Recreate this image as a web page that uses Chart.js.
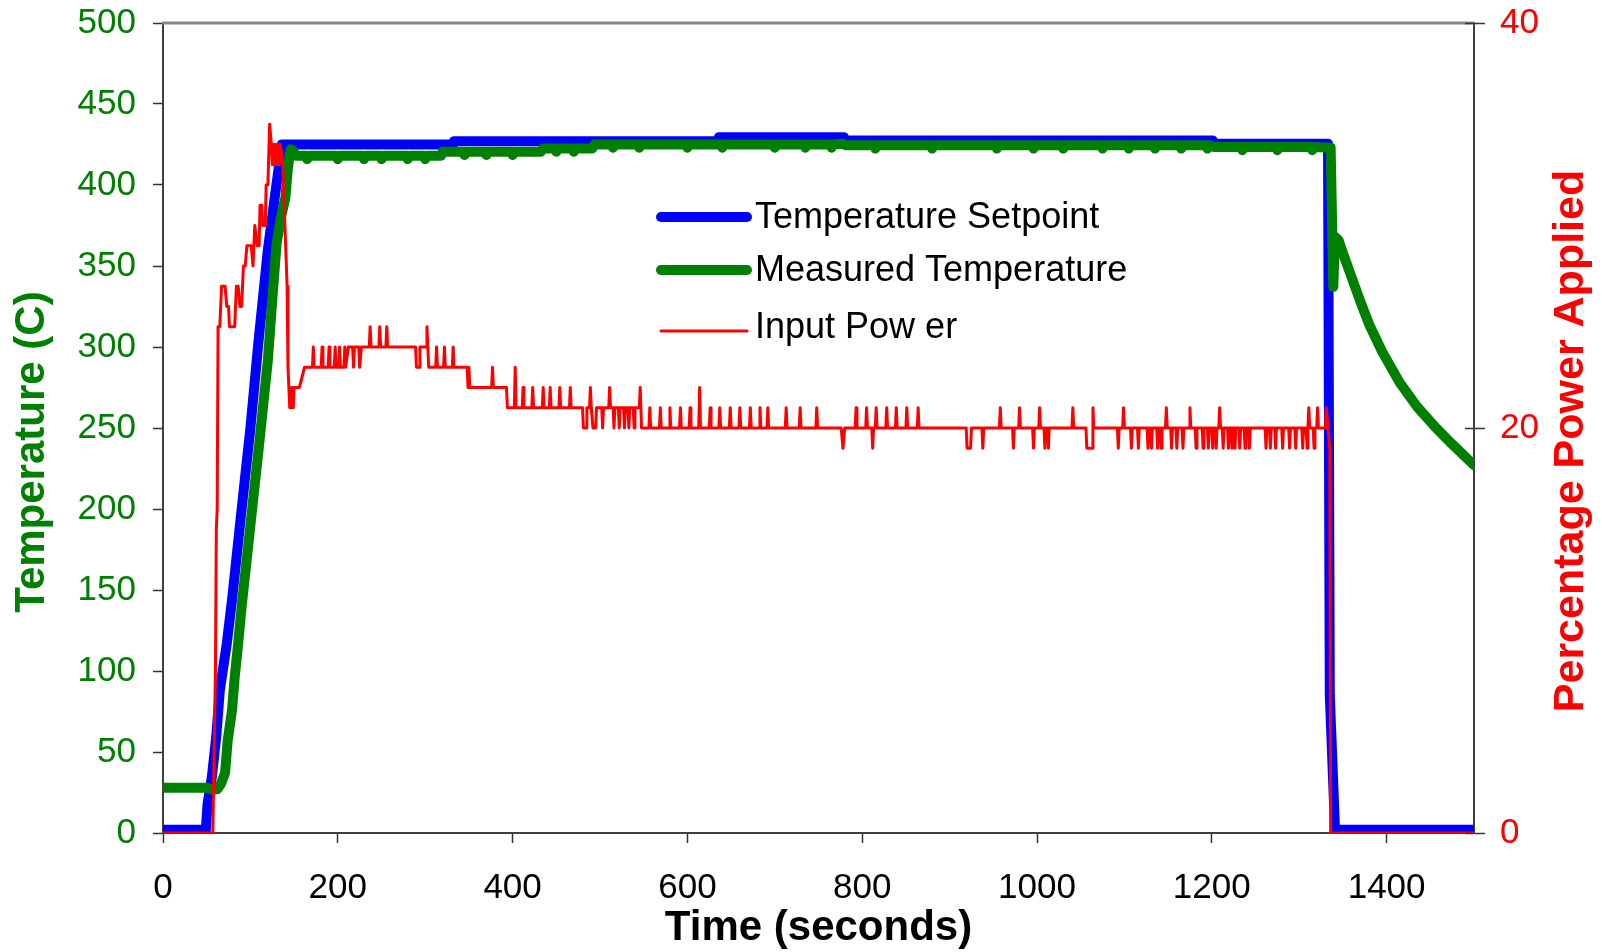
<!DOCTYPE html>
<html><head><meta charset="utf-8">
<script src="https://cdn.jsdelivr.net/npm/chart.js@4.4.1/dist/chart.umd.min.js"></script>
<style>html,body{margin:0;padding:0;background:#fff;}#wrap{width:1602px;height:952px;}</style>
</head><body><div id="wrap"><canvas id="c" width="1602" height="952"></canvas></div>
<script>
// ---- data ----
const xTickStep = 200;
const leftTickStep = 50;
const rightTickStep = 20;
const seriesLabels = ['Temperature Setpoint', 'Measured Temperature', 'Input Pow er'];

const setpointTime   = [0, 49, 51, 56, 61, 65, 73, 79, 90, 100, 109, 120, 128, 136, 332, 333, 635, 636, 779, 780, 1201, 1202, 1333, 1335, 1341, 1500];
const setpointValues = [2, 2, 18, 35, 60, 88, 117, 144, 200, 250, 302, 360, 393, 425, 425, 427, 427, 429.5, 429.5, 427.5, 427.5, 425.5, 425.5, 85, 2, 2];

const measuredTime = [0, 50, 55, 62, 66, 71, 74, 79, 82, 86, 90, 100, 110, 120, 125, 130, 135, 140, 143, 146, 149, 152,
  164, 165, 167, 199, 200, 202, 229, 230, 232, 249, 250, 252, 279, 280, 282, 299, 300, 302, 318,
  320, 344, 345, 347, 369, 370, 372, 399, 400, 402, 432,
  435, 449, 450, 452, 469, 470, 472, 491,
  494, 514, 515, 517, 544, 545, 547, 599, 600, 602, 639, 640, 642, 699, 700, 702, 734, 735, 737, 764, 765, 767, 778,
  781, 814, 815, 817, 879, 880, 882, 953, 954, 956, 995, 996, 998, 1029, 1030, 1032, 1074, 1075, 1077, 1104, 1105, 1107,
  1134, 1135, 1137, 1164, 1165, 1167, 1194, 1195, 1197,
  1202, 1234, 1235, 1237, 1274, 1275, 1277, 1314, 1315, 1317, 1336,
  1339, 1341, 1345, 1350, 1360, 1370, 1380, 1395, 1415, 1435, 1455, 1475, 1500];
const measuredValues = [28, 28, 27, 27, 30, 37, 57, 76, 96, 117, 140, 190, 240, 292, 329, 364, 380, 392, 411, 422, 421, 418,
  418, 416, 418, 418, 416, 418, 418, 416, 418, 418, 416, 418, 418, 416, 418, 418, 416, 418, 418,
  420.5, 420.5, 418.5, 420.5, 420.5, 418.5, 420.5, 420.5, 418.5, 420.5, 420.5,
  422.5, 422.5, 420.5, 422.5, 422.5, 420.5, 422.5, 422.5,
  425, 425, 423, 425, 425, 423, 425, 425, 423, 425, 425, 423, 425, 425, 423, 425, 425, 423, 425, 425, 423, 425, 425.5,
  424.5, 424.5, 422.5, 424.5, 424.5, 422.5, 424.5, 424.5, 422.5, 424.5, 424.5, 422.5, 424.5, 424.5, 422.5, 424.5, 424.5, 422.5, 424.5, 424.5, 422.5, 424.5,
  424.5, 422.5, 424.5, 424.5, 422.5, 424.5, 424.5, 422.5, 424.5,
  423.5, 423.5, 421.5, 423.5, 423.5, 421.5, 423.5, 423.5, 421.5, 423.5, 423,
  337, 368, 366, 358, 343, 328, 314, 297, 278, 263, 251, 240, 227];

const powerTime = [0, 57, 60, 61, 62, 63, 65, 67, 71, 73, 75, 76, 82, 84, 86, 88, 90, 92, 94, 96, 101, 103, 104, 105, 108, 110,
  111, 113, 114, 117, 118, 120, 122, 124, 125, 126, 127, 128, 129, 130, 131, 132, 133, 134, 136, 137, 142, 143,
  145, 146, 147, 148, 149, 150, 156, 162, 171, 172, 173, 181, 182, 183, 189, 190, 191, 196, 197, 198, 201, 202, 203,
  207, 208, 209, 212, 217, 218, 219, 224, 225, 227, 236, 237, 238, 247, 248, 249, 255, 256, 257, 289, 290, 293, 294,
  301, 302, 304, 312, 313, 314, 321, 322, 323, 331, 332, 333, 348, 349, 350, 351, 376, 377, 378, 393, 394,
  402, 403, 404, 411, 412, 413, 422, 423, 424, 434, 435, 436, 442, 443, 444, 453, 454, 455, 465, 466, 467,
  480, 481, 484, 485, 488, 489, 490, 492, 495, 496, 502, 503, 504, 510, 511, 512, 515, 516, 517, 521, 522, 523,
  527, 528, 529, 532, 533, 534, 538, 539, 540, 545, 546, 547.5,
  556, 557, 558, 568, 569, 570, 579, 580, 581, 591, 592, 593, 602, 603, 604, 613, 614, 615,
  625, 626, 627, 636, 637, 638, 648, 649, 650, 659, 660, 661, 671, 672, 673, 682, 683, 684, 691, 692, 693,
  712, 713, 714, 728, 729, 730, 747, 748, 749, 776, 778, 780, 792, 793, 794, 804, 805, 806, 811, 812, 813,
  815, 816, 817, 827, 828, 829, 838, 839, 840, 850, 851, 852, 863, 864, 865,
  919, 920, 924, 925, 937, 938, 939, 957, 958, 959, 972, 973, 974, 979, 980, 981, 995, 996, 997, 1002, 1003, 1004,
  1008, 1009, 1010, 1012, 1013, 1014, 1040, 1041, 1042, 1056, 1057, 1063, 1064, 1065,
  1092, 1093, 1094, 1098, 1099, 1100, 1107, 1108, 1109, 1115, 1116, 1117, 1126, 1127, 1128, 1130, 1131, 1132,
  1137, 1138, 1139, 1141, 1142, 1143, 1147, 1148, 1149, 1153, 1154, 1155, 1159, 1160, 1161, 1166, 1167, 1168,
  1174, 1175, 1176, 1181, 1182, 1183, 1189, 1190, 1191, 1195, 1196, 1197, 1200, 1201, 1202, 1204, 1205, 1206,
  1208, 1209, 1210, 1212, 1213, 1214, 1218, 1219, 1220, 1222, 1223, 1224, 1225.5, 1226.5, 1227.5,
  1231, 1232, 1233, 1237, 1238, 1239, 1242, 1243, 1244, 1261, 1262, 1263, 1266, 1267, 1268, 1272, 1273, 1274,
  1280, 1281, 1282, 1288, 1289, 1290, 1295, 1296, 1297, 1303, 1304, 1305, 1308, 1309, 1310, 1311, 1312,
  1316, 1317, 1318, 1320, 1321, 1322, 1330, 1331, 1333, 1335, 1336, 1500];
const powerValues = [0, 0, 8, 15, 16, 25, 25, 27, 27, 26, 26, 25, 25, 27, 27, 26, 26, 28, 28, 29, 29, 28, 28, 30, 29, 29,
  31, 31, 30, 30, 32, 32, 35, 34, 33, 34, 33, 34, 33, 34, 33, 34, 33, 34, 33.5, 33, 27, 23,
  21, 22, 21, 22, 21, 22, 22, 23, 23, 24, 23, 23, 24, 23, 23, 24, 23, 23, 24, 23, 23, 24, 23,
  23, 24, 23, 24, 24, 23, 24, 24, 23, 24, 24, 25, 24, 24, 25, 24, 24, 25, 24, 24, 23, 23, 24,
  24, 25, 23, 23, 24, 23, 23, 24, 23, 23, 24, 23, 23, 22, 23, 22, 22, 23, 22, 22, 21,
  21, 23, 21, 21, 22, 21, 21, 22, 21, 21, 22, 21, 21, 22, 21, 21, 22, 21, 21, 22, 21,
  21, 20, 20, 21, 21, 22, 21, 20, 20, 21, 21, 20, 21, 21, 22, 21, 21, 20, 21, 21, 20, 21,
  21, 20, 21, 21, 20, 21, 21, 20, 21, 21, 22, 20,
  20, 21, 20, 20, 21, 20, 20, 21, 20, 20, 21, 20, 20, 21, 20, 20, 22, 20,
  20, 21, 20, 20, 21, 20, 20, 21, 20, 20, 21, 20, 20, 21, 20, 20, 21, 20, 20, 21, 20,
  20, 21, 20, 20, 21, 20, 20, 21, 20, 20, 19, 20, 20, 21, 20, 20, 21, 20, 20, 19, 20,
  20, 21, 20, 20, 21, 20, 20, 21, 20, 20, 21, 20, 20, 21, 20,
  20, 19, 19, 20, 20, 19, 20, 20, 21, 20, 20, 19, 20, 20, 21, 20, 20, 19, 20, 20, 21, 20,
  20, 19, 20, 20, 19, 20, 20, 21, 20, 20, 19, 19, 21, 20,
  20, 19, 20, 20, 21, 20, 20, 19, 20, 20, 19, 20, 20, 19, 20, 20, 19, 20,
  20, 19, 20, 20, 19, 20, 20, 21, 20, 20, 19, 20, 20, 19, 20, 20, 19, 20,
  20, 21, 20, 20, 19, 20, 20, 19, 20, 20, 19, 20, 20, 19, 20, 20, 19, 20,
  20, 21, 20, 20, 19, 20, 20, 19, 20, 20, 19, 20, 20, 19, 20,
  20, 19, 20, 20, 19, 20, 20, 19, 20, 20, 19, 20, 20, 19, 20, 20, 19, 20,
  20, 19, 20, 20, 19, 20, 20, 19, 20, 20, 19, 20, 20, 19, 20, 21, 20,
  20, 19, 20, 20, 21, 20, 20, 21, 20, 19, 0, 0];

// ---- rendering ----
const FONT = '"Liberation Sans", Arial, Helvetica, sans-serif';
const GREEN = '#008000', BLUE = '#0000FF', RED = '#FF0000';
function pts(t, v) { return t.map((x, i) => ({ x: x, y: v[i] })); }

const overlay = {
  id: 'overlay',
  afterDraw(chart) {
    const { ctx, chartArea: a, scales } = chart;
    ctx.save();
    // top frame line
    ctx.strokeStyle = '#8a8a8a'; ctx.lineWidth = 3;
    ctx.beginPath(); ctx.moveTo(a.left - 1, a.top); ctx.lineTo(a.right, a.top); ctx.stroke();
    // inner halves of right-axis tick marks
    const r = scales.y1;
    ctx.strokeStyle = '#333'; ctx.lineWidth = 1.5;
    r.ticks.forEach(t => {
      const y = Math.round(r.getPixelForValue(t.value)) + 0.5;
      ctx.beginPath(); ctx.moveTo(a.right - 9, y); ctx.lineTo(a.right, y); ctx.stroke();
    });
    // vertical axis titles (both read bottom-to-top)
    ctx.textAlign = 'center'; ctx.textBaseline = 'alphabetic';
    ctx.font = 'bold 42px ' + FONT;
    ctx.fillStyle = GREEN;
    ctx.save(); ctx.translate(44, 452); ctx.rotate(-Math.PI / 2); ctx.fillText('Temperature (C)', 0, 0); ctx.restore();
    ctx.font = 'bold 43px ' + FONT;
    ctx.fillStyle = RED;
    ctx.save(); ctx.translate(1583, 441); ctx.rotate(-Math.PI / 2); ctx.fillText('Percentage Power Applied', 0, 0); ctx.restore();
    // legend
    const ds = chart.data.datasets;
    const rows = [217, 270, 331];
    const textY = [218, 271, 328];
    ctx.font = '36px ' + FONT; ctx.textAlign = 'left'; ctx.textBaseline = 'middle';
    ds.forEach((d, i) => {
      ctx.strokeStyle = d.borderColor; ctx.lineCap = 'round';
      ctx.lineWidth = i < 2 ? 10 : 3;
      ctx.beginPath(); ctx.moveTo(661, rows[i]); ctx.lineTo(747, rows[i]); ctx.stroke();
      ctx.fillStyle = '#000';
      ctx.fillText(d.label, 755, textY[i]);
    });
    ctx.restore();
  }
};

const tickFont = { family: FONT, size: 35 };
const plain = v => String(v);
new Chart(document.getElementById('c'), {
  type: 'line',
  data: {
    datasets: [
      { label: seriesLabels[0], data: pts(setpointTime, setpointValues), borderColor: BLUE, backgroundColor: BLUE, borderWidth: 10, yAxisID: 'y', order: 3 },
      { label: seriesLabels[1], data: pts(measuredTime, measuredValues), borderColor: GREEN, backgroundColor: GREEN, borderWidth: 10, yAxisID: 'y', order: 2 },
      { label: seriesLabels[2], data: pts(powerTime, powerValues), borderColor: RED, backgroundColor: RED, borderWidth: 3, yAxisID: 'y1', order: 1 }
    ]
  },
  options: {
    responsive: false, animation: false, devicePixelRatio: 1,
    elements: { point: { radius: 0 }, line: { tension: 0, borderJoinStyle: 'round', borderCapStyle: 'round', fill: false } },
    layout: { padding: { top: 23, left: 0, right: 0, bottom: 0 } },
    plugins: { legend: { display: false }, tooltip: { enabled: false } },
    scales: {
      x: {
        type: 'linear', position: 'bottom', min: 0, max: 1500,
        ticks: { stepSize: xTickStep, includeBounds: false, color: '#000', font: tickFont, padding: 24, maxRotation: 0, autoSkip: false, callback: plain },
        grid: { drawOnChartArea: false, drawTicks: true, tickLength: 10, tickColor: '#333', tickWidth: 1.5 },
        border: { display: true, color: '#404040', width: 2 },
        title: { display: true, text: 'Time (seconds)', color: '#000', font: { family: FONT, size: 42, weight: 'bold', lineHeight: 1.1 }, padding: { top: 0, bottom: 0 } },
        afterFit: s => { s.height = 119; s.paddingLeft = 0; s.paddingRight = 0; }
      },
      y: {
        type: 'linear', position: 'left', min: 0, max: 500,
        ticks: { stepSize: leftTickStep, color: GREEN, font: tickFont, padding: 17, callback: plain },
        grid: { drawOnChartArea: false, drawTicks: true, tickLength: 10, tickColor: '#333', tickWidth: 1.5 },
        border: { display: true, color: '#404040', width: 2 },
        afterFit: s => { s.width = 163; s.paddingTop = 0; s.paddingBottom = 0; }
      },
      y1: {
        type: 'linear', position: 'right', min: 0, max: 40,
        ticks: { stepSize: rightTickStep, color: RED, font: tickFont, padding: 15, callback: plain },
        grid: { drawOnChartArea: false, drawTicks: true, tickLength: 11, tickColor: '#333', tickWidth: 1.5 },
        border: { display: true, color: '#404040', width: 2 },
        afterFit: s => { s.width = 128; s.paddingTop = 0; s.paddingBottom = 0; }
      }
    }
  },
  plugins: [overlay]
});
</script></body></html>
